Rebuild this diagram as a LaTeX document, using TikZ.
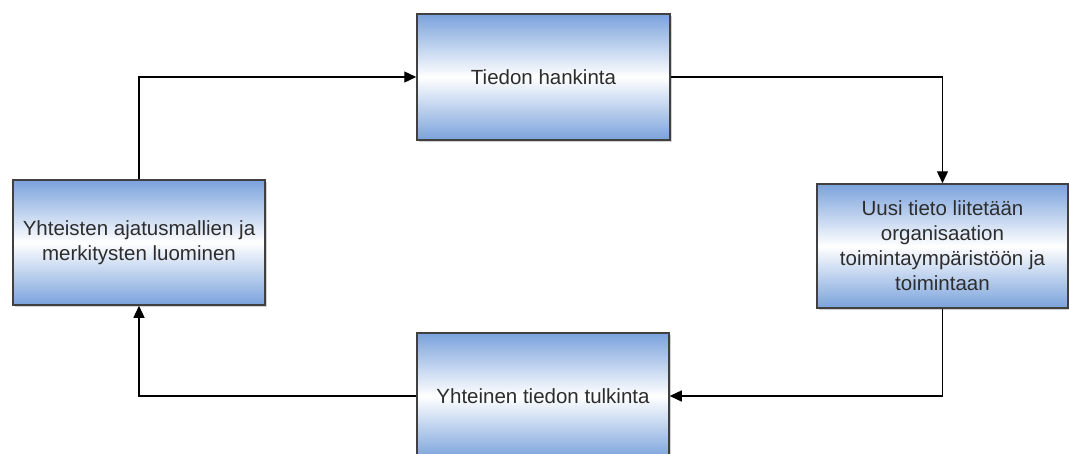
\documentclass[tikz,border=0pt]{standalone}
\usepackage{fontspec}
\setmainfont{Liberation Sans}
\usetikzlibrary{arrows.meta,shadows}
\definecolor{boxblue}{RGB}{122,162,220}
\definecolor{boxedge}{RGB}{64,64,64}
\definecolor{txtgray}{RGB}{45,45,45}
\tikzset{
  procbox/.style={draw=boxedge, line width=1.5pt, rectangle,
    top color=boxblue, bottom color=boxblue, middle color=white,
    drop shadow={shadow xshift=1.5pt, shadow yshift=-1.5pt, opacity=0.35},
    text=txtgray, align=center, inner sep=0pt,
    font=\fontsize{20.5pt}{25pt}\selectfont},
  conn/.style={draw=black, line width=1.4pt, -{Triangle[length=12pt,width=11pt]}}
}
\begin{document}
\begin{tikzpicture}[x=1pt,y=-1pt]
\clip (0,0) rectangle (1069,453);
\fill[white] (0,0) rectangle (1069,453);
\node[procbox, minimum width=253pt, minimum height=126pt] (top) at (543.5,77) {Tiedon hankinta};
\node[procbox, minimum width=251pt, minimum height=124pt] (right) at (942.5,246) {Uusi tieto liitetään\\organisaation\\toimintaympäristöön ja\\toimintaan};
\node[procbox, minimum width=252pt, minimum height=126pt] (bottom) at (543,396) {Yhteinen tiedon tulkinta};
\node[procbox, minimum width=252pt, minimum height=125pt] (left) at (139,242.5) {Yhteisten ajatusmallien ja\\merkitysten luominen};
\draw[conn] (left.north) |- (top.west);
\draw[conn] (top.east) -| (right.north);
\draw[conn] (right.south) |- (bottom.east);
\draw[conn] (bottom.west) -| (left.south);
\end{tikzpicture}
\end{document}
